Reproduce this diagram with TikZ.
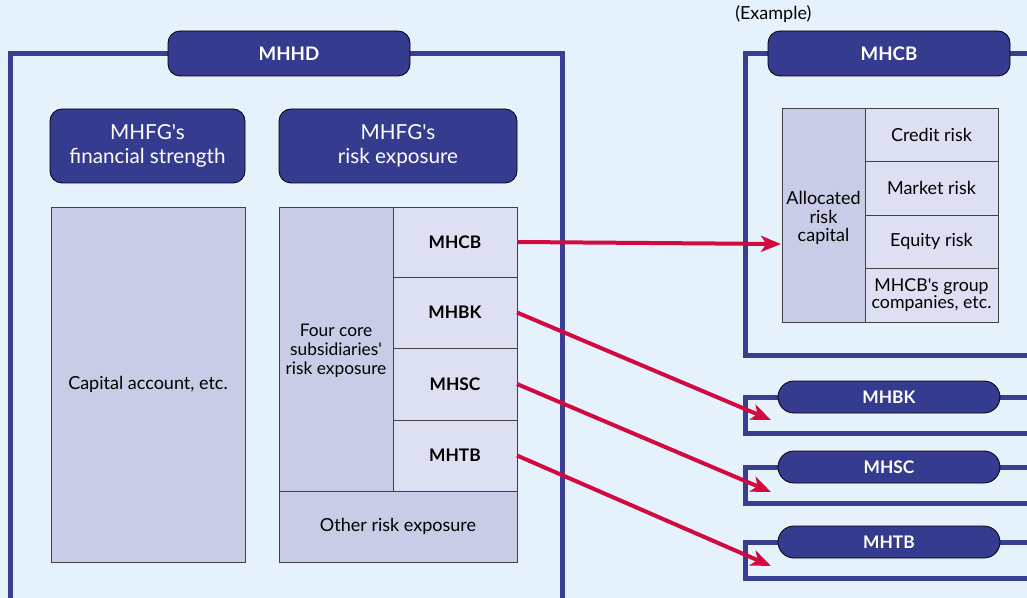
\documentclass[tikz,border=0pt]{standalone}
\usepackage{fontspec}
\setmainfont{Lato}[Ligatures=TeXOff]
\usetikzlibrary{arrows.meta}
\definecolor{bgc}{HTML}{E5F2FB}
\definecolor{navy}{HTML}{353C8F}
\definecolor{framec}{HTML}{383F93}
\definecolor{lav}{HTML}{C8CCE6}
\definecolor{lavl}{HTML}{DCE0F2}
\definecolor{redc}{HTML}{D20A40}
\tikzset{
  px/.style={x=0.75pt,y=-0.75pt},
  hw/.style 2 args={minimum width={#1*0.75pt},minimum height={#2*0.75pt}},
  frame/.style={draw=framec,line width=3.75pt,line join=miter},
  head/.style={draw=black,line width=0.6pt,fill=navy,text=white,inner sep=0pt,outer sep=0pt,anchor=north west,align=center},
  cell/.style={draw=black!75,line width=0.6pt,inner sep=0pt,outer sep=0pt,anchor=north west,align=center,text=black},
  txt/.style={inner sep=0pt,align=center,text=black},
  link/.style={draw=redc,line width=3pt,-{Stealth[length=15pt,width=12pt,inset=4pt]}},
  bodyf/.style={font=\fontsize{13.5}{14}\selectfont},
  boldf/.style={font=\fontsize{13}{15}\selectfont\bfseries},
}
\begin{document}
\begin{tikzpicture}[px]
\useasboundingbox (0,0) rectangle (1027,598);
\fill[bgc] (0,0) rectangle (1027,598);
\clip (0,0) rectangle (1027,598);
% frames
\draw[frame] (10,610) |- (562,54) -- (562,610);
\draw[frame] (1040,54) -| (745,355) -- (1040,355);
\draw[frame] (1040,397) -| (745,433) -- (1040,433);
\draw[frame] (1040,467) -| (745,503) -- (1040,503);
\draw[frame] (1040,542) -| (745,578) -- (1040,578);
% headers
\node[head,rounded corners=9pt,hw={242}{45},font=\fontsize{14}{16}\selectfont\bfseries] (mhhd) at (168,31) {MHHD};
\node[head,rounded corners=9pt,hw={195}{74},font=\fontsize{15.5}{18}\selectfont] (fs) at (50,109) {MHFG's\\financial strength};
\node[head,rounded corners=9pt,hw={238}{74},font=\fontsize{15.5}{18}\selectfont] (re) at (279,109) {MHFG's\\risk exposure};
\node[head,rounded corners=9pt,hw={242}{45},font=\fontsize{14}{16}\selectfont\bfseries] (hcb) at (768,31) {MHCB};
\node[head,rounded corners=12pt,hw={222}{32},boldf] (hbk) at (778,381) {MHBK};
\node[head,rounded corners=12pt,hw={222}{32},boldf] (hsc) at (778,451) {MHSC};
\node[head,rounded corners=12pt,hw={222}{32},boldf] (htb) at (778,526) {MHTB};
\node[anchor=west,inner sep=0pt,font=\fontsize{13.5}{14}\selectfont] (ex) at (735,14) {(Example)};
% left boxes
\node[cell,fill=lav,hw={194}{355},bodyf] (cap) at (51,207) {Capital account, etc.};
\node[cell,fill=lav,hw={114}{284}] (four) at (279,207) {};
\node[txt,font=\fontsize{13}{14.25}\selectfont] (fourtxt) at ([yshift=-1.5pt]four.center) {Four core\\subsidiaries'\\risk exposure};
\node[cell,fill=lavl,hw={124}{70},boldf] (cb) at (393,207) {MHCB};
\node[cell,fill=lavl,hw={124}{71},boldf] (bk) at (393,277) {MHBK};
\node[cell,fill=lavl,hw={124}{72},boldf] (sc) at (393,348) {MHSC};
\node[cell,fill=lavl,hw={124}{71},boldf] (tb) at (393,420) {MHTB};
\node[cell,fill=lav,hw={238}{71},bodyf] (oth) at (279,491) {Other risk exposure};
% right table
\node[cell,fill=lav,hw={83}{214}] (alloc) at (782,108) {};
\node[txt,font=\fontsize{13.5}{13.9}\selectfont] (alloctxt) at ([yshift=-2.5pt]alloc.center) {Allocated\\risk\\capital};
\node[cell,fill=lavl,hw={133}{53},bodyf] (cr) at (865,108) {Credit risk};
\node[cell,fill=lavl,hw={133}{54},bodyf] (mr) at (865,161) {Market risk};
\node[cell,fill=lavl,hw={133}{53},bodyf] (er) at (865,215) {Equity risk};
\node[cell,fill=lavl,hw={133}{54},font=\fontsize{13.3}{12.75}\selectfont] (gc) at (865,268) {MHCB's group\\companies, etc.};
% targets
\coordinate (tcb) at (781,244);
\coordinate (tbk) at (771,420);
\coordinate (tsc) at (771,492);
\coordinate (ttb) at (771,566);
% arrows
\draw[link] (cb.east) -- (tcb);
\draw[link] (bk.east) -- (tbk);
\draw[link] (sc.east) -- (tsc);
\draw[link] (tb.east) -- (ttb);
\end{tikzpicture}
\end{document}
